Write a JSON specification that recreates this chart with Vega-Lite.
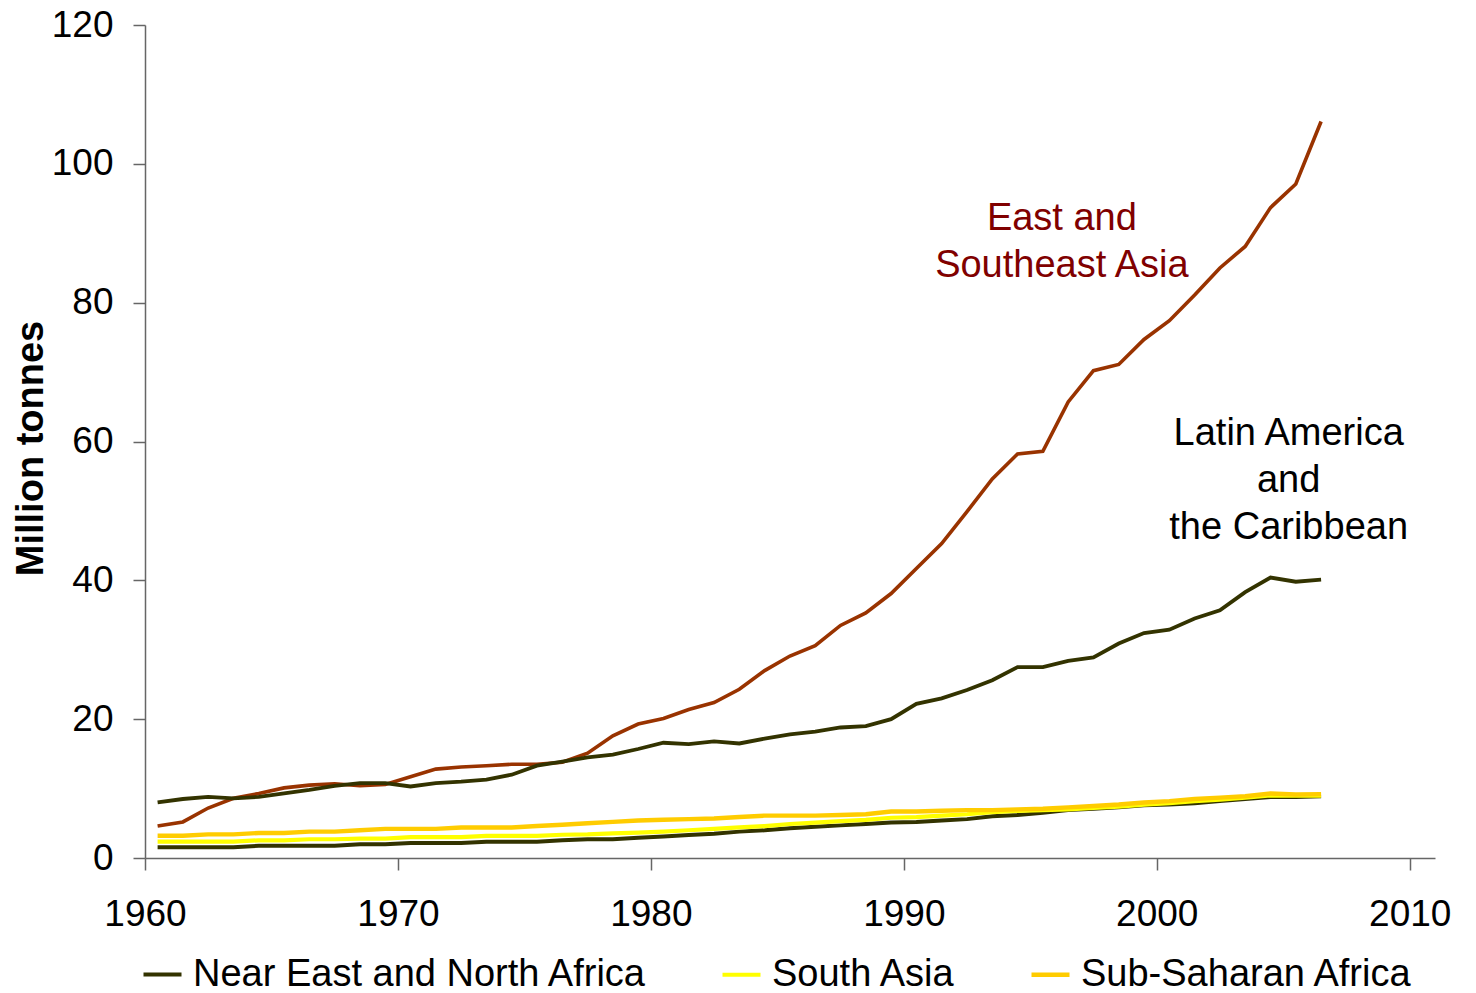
{
  "$schema": "https://vega.github.io/schema/vega-lite/v6.json",
  "width": 1290,
  "height": 833,
  "autosize": {"type": "none"},
  "padding": {"left": 145, "top": 25, "right": 41, "bottom": 135},
  "background": "white",
  "config": {
    "view": {"stroke": null},
    "font": "Liberation Sans",
    "axis": {
      "grid": false,
      "domainColor": "#666666",
      "domainWidth": 1.5,
      "tickColor": "#666666",
      "tickWidth": 1.5,
      "tickSize": 12,
      "labelFont": "Liberation Sans",
      "labelFontSize": 37,
      "labelColor": "black",
      "labelOverlap": false,
      "labelFlush": false
    },
    "legend": {
      "labelFont": "Liberation Sans",
      "labelFontSize": 38,
      "labelColor": "black",
      "labelLimit": 0
    }
  },
  "layer": [
    {
      "data": {
        "values": [
          {"date": "1960-07-01", "East and Southeast Asia": 4.6, "Latin America and the Caribbean": 8.0, "Near East and North Africa": 1.55, "South Asia": 2.35, "Sub-Saharan Africa": 3.2},
          {"date": "1961-07-01", "East and Southeast Asia": 5.2, "Latin America and the Caribbean": 8.5, "Near East and North Africa": 1.55, "South Asia": 2.35, "Sub-Saharan Africa": 3.2},
          {"date": "1962-07-01", "East and Southeast Asia": 7.2, "Latin America and the Caribbean": 8.8, "Near East and North Africa": 1.55, "South Asia": 2.35, "Sub-Saharan Africa": 3.4},
          {"date": "1963-07-01", "East and Southeast Asia": 8.6, "Latin America and the Caribbean": 8.6, "Near East and North Africa": 1.55, "South Asia": 2.35, "Sub-Saharan Africa": 3.4},
          {"date": "1964-07-01", "East and Southeast Asia": 9.3, "Latin America and the Caribbean": 8.8, "Near East and North Africa": 1.77, "South Asia": 2.55, "Sub-Saharan Africa": 3.6},
          {"date": "1965-07-01", "East and Southeast Asia": 10.1, "Latin America and the Caribbean": 9.3, "Near East and North Africa": 1.77, "South Asia": 2.55, "Sub-Saharan Africa": 3.6},
          {"date": "1966-07-01", "East and Southeast Asia": 10.5, "Latin America and the Caribbean": 9.8, "Near East and North Africa": 1.77, "South Asia": 2.7, "Sub-Saharan Africa": 3.8},
          {"date": "1967-07-01", "East and Southeast Asia": 10.7, "Latin America and the Caribbean": 10.4, "Near East and North Africa": 1.77, "South Asia": 2.7, "Sub-Saharan Africa": 3.8},
          {"date": "1968-07-01", "East and Southeast Asia": 10.4, "Latin America and the Caribbean": 10.8, "Near East and North Africa": 1.97, "South Asia": 2.8, "Sub-Saharan Africa": 4.0},
          {"date": "1969-07-01", "East and Southeast Asia": 10.6, "Latin America and the Caribbean": 10.8, "Near East and North Africa": 1.97, "South Asia": 2.8, "Sub-Saharan Africa": 4.2},
          {"date": "1970-07-01", "East and Southeast Asia": 11.7, "Latin America and the Caribbean": 10.3, "Near East and North Africa": 2.16, "South Asia": 3.0, "Sub-Saharan Africa": 4.2},
          {"date": "1971-07-01", "East and Southeast Asia": 12.8, "Latin America and the Caribbean": 10.8, "Near East and North Africa": 2.16, "South Asia": 3.0, "Sub-Saharan Africa": 4.2},
          {"date": "1972-07-01", "East and Southeast Asia": 13.1, "Latin America and the Caribbean": 11.0, "Near East and North Africa": 2.16, "South Asia": 3.0, "Sub-Saharan Africa": 4.4},
          {"date": "1973-07-01", "East and Southeast Asia": 13.3, "Latin America and the Caribbean": 11.3, "Near East and North Africa": 2.35, "South Asia": 3.2, "Sub-Saharan Africa": 4.4},
          {"date": "1974-07-01", "East and Southeast Asia": 13.5, "Latin America and the Caribbean": 12.0, "Near East and North Africa": 2.35, "South Asia": 3.2, "Sub-Saharan Africa": 4.4},
          {"date": "1975-07-01", "East and Southeast Asia": 13.5, "Latin America and the Caribbean": 13.3, "Near East and North Africa": 2.35, "South Asia": 3.2, "Sub-Saharan Africa": 4.6},
          {"date": "1976-07-01", "East and Southeast Asia": 13.8, "Latin America and the Caribbean": 13.9, "Near East and North Africa": 2.55, "South Asia": 3.35, "Sub-Saharan Africa": 4.8},
          {"date": "1977-07-01", "East and Southeast Asia": 15.1, "Latin America and the Caribbean": 14.5, "Near East and North Africa": 2.7, "South Asia": 3.4, "Sub-Saharan Africa": 5.0},
          {"date": "1978-07-01", "East and Southeast Asia": 17.6, "Latin America and the Caribbean": 14.9, "Near East and North Africa": 2.7, "South Asia": 3.55, "Sub-Saharan Africa": 5.2},
          {"date": "1979-07-01", "East and Southeast Asia": 19.3, "Latin America and the Caribbean": 15.7, "Near East and North Africa": 2.9, "South Asia": 3.65, "Sub-Saharan Africa": 5.4},
          {"date": "1980-07-01", "East and Southeast Asia": 20.1, "Latin America and the Caribbean": 16.6, "Near East and North Africa": 3.1, "South Asia": 3.8, "Sub-Saharan Africa": 5.5},
          {"date": "1981-07-01", "East and Southeast Asia": 21.4, "Latin America and the Caribbean": 16.4, "Near East and North Africa": 3.3, "South Asia": 4.0, "Sub-Saharan Africa": 5.6},
          {"date": "1982-07-01", "East and Southeast Asia": 22.4, "Latin America and the Caribbean": 16.8, "Near East and North Africa": 3.5, "South Asia": 4.2, "Sub-Saharan Africa": 5.7},
          {"date": "1983-07-01", "East and Southeast Asia": 24.3, "Latin America and the Caribbean": 16.5, "Near East and North Africa": 3.8, "South Asia": 4.4, "Sub-Saharan Africa": 5.9},
          {"date": "1984-07-01", "East and Southeast Asia": 27.0, "Latin America and the Caribbean": 17.2, "Near East and North Africa": 4.0, "South Asia": 4.6, "Sub-Saharan Africa": 6.1},
          {"date": "1985-07-01", "East and Southeast Asia": 29.1, "Latin America and the Caribbean": 17.8, "Near East and North Africa": 4.3, "South Asia": 4.9, "Sub-Saharan Africa": 6.1},
          {"date": "1986-07-01", "East and Southeast Asia": 30.6, "Latin America and the Caribbean": 18.2, "Near East and North Africa": 4.5, "South Asia": 5.1, "Sub-Saharan Africa": 6.1},
          {"date": "1987-07-01", "East and Southeast Asia": 33.5, "Latin America and the Caribbean": 18.8, "Near East and North Africa": 4.7, "South Asia": 5.3, "Sub-Saharan Africa": 6.2},
          {"date": "1988-07-01", "East and Southeast Asia": 35.3, "Latin America and the Caribbean": 19.0, "Near East and North Africa": 4.9, "South Asia": 5.5, "Sub-Saharan Africa": 6.3},
          {"date": "1989-07-01", "East and Southeast Asia": 38.1, "Latin America and the Caribbean": 20.0, "Near East and North Africa": 5.1, "South Asia": 5.8, "Sub-Saharan Africa": 6.7},
          {"date": "1990-07-01", "East and Southeast Asia": 41.7, "Latin America and the Caribbean": 22.2, "Near East and North Africa": 5.2, "South Asia": 5.9, "Sub-Saharan Africa": 6.7},
          {"date": "1991-07-01", "East and Southeast Asia": 45.3, "Latin America and the Caribbean": 23.0, "Near East and North Africa": 5.4, "South Asia": 6.1, "Sub-Saharan Africa": 6.8},
          {"date": "1992-07-01", "East and Southeast Asia": 49.9, "Latin America and the Caribbean": 24.2, "Near East and North Africa": 5.6, "South Asia": 6.3, "Sub-Saharan Africa": 6.9},
          {"date": "1993-07-01", "East and Southeast Asia": 54.6, "Latin America and the Caribbean": 25.6, "Near East and North Africa": 6.0, "South Asia": 6.6, "Sub-Saharan Africa": 6.9},
          {"date": "1994-07-01", "East and Southeast Asia": 58.2, "Latin America and the Caribbean": 27.5, "Near East and North Africa": 6.2, "South Asia": 6.8, "Sub-Saharan Africa": 7.0},
          {"date": "1995-07-01", "East and Southeast Asia": 58.6, "Latin America and the Caribbean": 27.5, "Near East and North Africa": 6.5, "South Asia": 6.9, "Sub-Saharan Africa": 7.1},
          {"date": "1996-07-01", "East and Southeast Asia": 65.7, "Latin America and the Caribbean": 28.4, "Near East and North Africa": 6.9, "South Asia": 7.0, "Sub-Saharan Africa": 7.3},
          {"date": "1997-07-01", "East and Southeast Asia": 70.2, "Latin America and the Caribbean": 28.9, "Near East and North Africa": 7.1, "South Asia": 7.2, "Sub-Saharan Africa": 7.5},
          {"date": "1998-07-01", "East and Southeast Asia": 71.1, "Latin America and the Caribbean": 30.9, "Near East and North Africa": 7.3, "South Asia": 7.4, "Sub-Saharan Africa": 7.7},
          {"date": "1999-07-01", "East and Southeast Asia": 74.7, "Latin America and the Caribbean": 32.4, "Near East and North Africa": 7.6, "South Asia": 7.7, "Sub-Saharan Africa": 8.0},
          {"date": "2000-07-01", "East and Southeast Asia": 77.4, "Latin America and the Caribbean": 32.9, "Near East and North Africa": 7.7, "South Asia": 7.9, "Sub-Saharan Africa": 8.2},
          {"date": "2001-07-01", "East and Southeast Asia": 81.1, "Latin America and the Caribbean": 34.5, "Near East and North Africa": 7.9, "South Asia": 8.2, "Sub-Saharan Africa": 8.5},
          {"date": "2002-07-01", "East and Southeast Asia": 85.0, "Latin America and the Caribbean": 35.7, "Near East and North Africa": 8.2, "South Asia": 8.4, "Sub-Saharan Africa": 8.7},
          {"date": "2003-07-01", "East and Southeast Asia": 88.1, "Latin America and the Caribbean": 38.3, "Near East and North Africa": 8.5, "South Asia": 8.7, "Sub-Saharan Africa": 8.9},
          {"date": "2004-07-01", "East and Southeast Asia": 93.7, "Latin America and the Caribbean": 40.4, "Near East and North Africa": 8.8, "South Asia": 9.0, "Sub-Saharan Africa": 9.3},
          {"date": "2005-07-01", "East and Southeast Asia": 97.1, "Latin America and the Caribbean": 39.8, "Near East and North Africa": 8.8, "South Asia": 9.0, "Sub-Saharan Africa": 9.15},
          {"date": "2006-07-01", "East and Southeast Asia": 106.1, "Latin America and the Caribbean": 40.1, "Near East and North Africa": 8.9, "South Asia": 9.0, "Sub-Saharan Africa": 9.2}
        ]
      },
      "transform": [
        {"fold": ["East and Southeast Asia", "Latin America and the Caribbean", "Near East and North Africa", "South Asia", "Sub-Saharan Africa"], "as": ["region", "tonnes"]}
      ],
      "mark": {"type": "line"},
      "encoding": {
        "x": {
          "field": "date",
          "type": "temporal",
          "scale": {"type": "utc", "domain": [{"year": 1960, "utc": true}, {"year": 2011, "utc": true}]},
          "axis": {
            "title": null,
            "format": "%Y",
            "labelPadding": 26,
            "values": [
              {"year": 1960, "utc": true}, {"year": 1970, "utc": true}, {"year": 1980, "utc": true},
              {"year": 1990, "utc": true}, {"year": 2000, "utc": true}, {"year": 2010, "utc": true}
            ]
          }
        },
        "y": {
          "field": "tonnes",
          "type": "quantitative",
          "scale": {"domain": [0, 120], "nice": false},
          "axis": {
            "title": "Million tonnes",
            "titleFont": "Liberation Sans",
            "titleFontSize": 38,
            "titleFontWeight": "bold",
            "titleColor": "black",
            "titlePadding": 1,
            "titleY": 423,
            "labelPadding": 20,
            "values": [0, 20, 40, 60, 80, 100, 120]
          }
        },
        "color": {
          "field": "region",
          "type": "nominal",
          "scale": {
            "domain": ["East and Southeast Asia", "Latin America and the Caribbean", "Near East and North Africa", "South Asia", "Sub-Saharan Africa"],
            "range": ["#993300", "#333300", "#333300", "#FFFF00", "#FFCC00"]
          },
          "legend": {
            "title": null,
            "values": ["Near East and North Africa", "South Asia", "Sub-Saharan Africa"],
            "orient": "none",
            "direction": "horizontal",
            "columns": 3,
            "legendX": -4,
            "legendY": 928,
            "padding": 0,
            "symbolType": "stroke",
            "symbolSize": 1444,
            "symbolStrokeWidth": 3,
            "labelOffset": 9,
            "columnPadding": 66
          }
        },
        "strokeWidth": {
          "field": "region",
          "type": "nominal",
          "scale": {
            "domain": ["East and Southeast Asia", "Latin America and the Caribbean", "Near East and North Africa", "South Asia", "Sub-Saharan Africa"],
            "range": [3.6, 4.4, 4.6, 5, 5]
          },
          "legend": null
        }
      }
    },
    {
      "data": {"values": [{}]},
      "mark": {"type": "text", "text": "East and\nSoutheast Asia", "lineBreak": "\n", "align": "center", "baseline": "alphabetic", "fontSize": 38, "lineHeight": 47, "color": "#800000"},
      "encoding": {
        "x": {"datum": {"year": 1996, "month": 4, "date": 1, "utc": true}, "type": "temporal"},
        "y": {"datum": 90.5, "type": "quantitative"}
      }
    },
    {
      "data": {"values": [{}]},
      "mark": {"type": "text", "text": "Latin America\nand\nthe Caribbean", "lineBreak": "\n", "align": "center", "baseline": "alphabetic", "fontSize": 38, "lineHeight": 47, "color": "black"},
      "encoding": {
        "x": {"datum": {"year": 2005, "month": 3, "date": 20, "utc": true}, "type": "temporal"},
        "y": {"datum": 59.5, "type": "quantitative"}
      }
    }
  ]
}
